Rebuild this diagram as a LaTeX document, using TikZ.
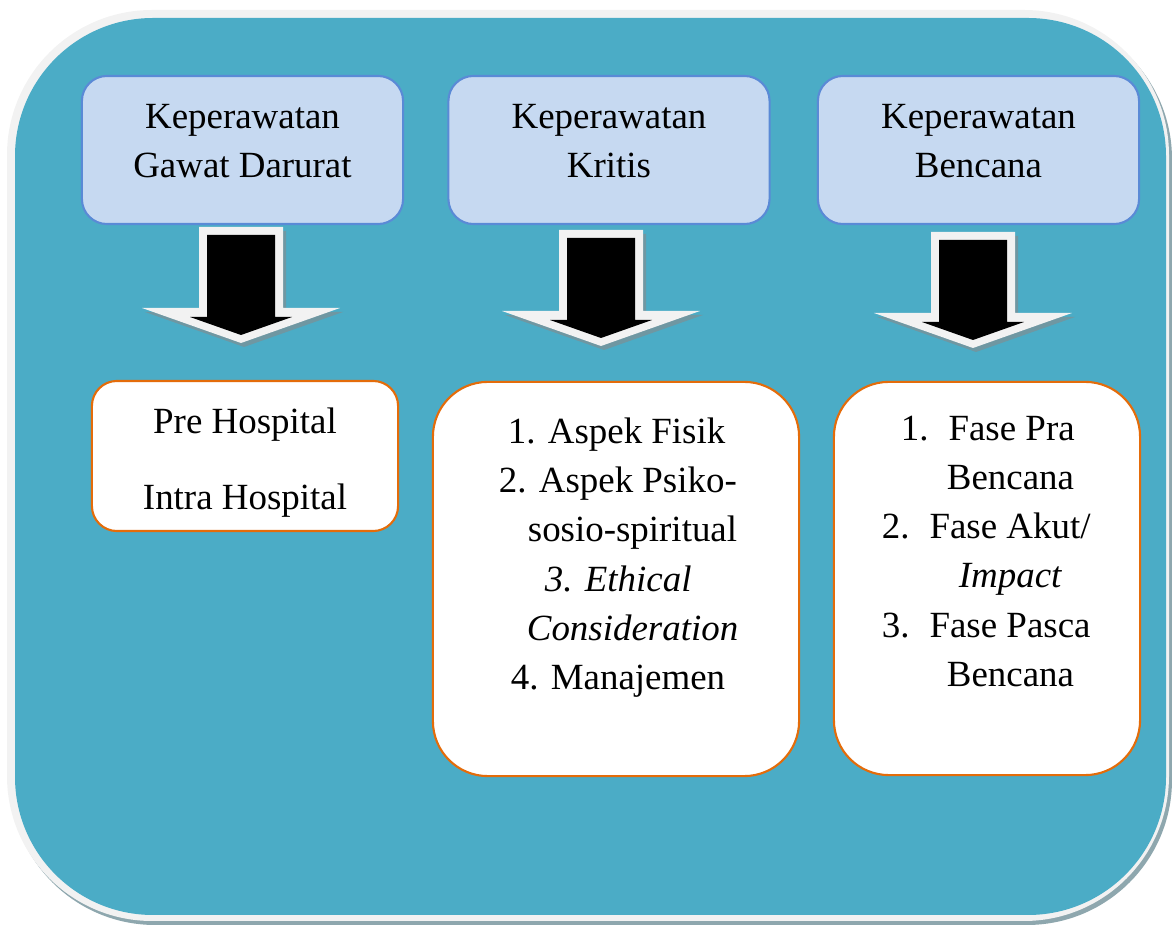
\documentclass[tikz,border=0pt]{standalone}
\usepackage{fontspec}
\setmainfont{Liberation Serif}
\usetikzlibrary{positioning}
\definecolor{frameteal}{HTML}{4BACC6}
\definecolor{rimgray}{HTML}{F2F2F2}
\definecolor{shadowgray}{HTML}{8EA7AE}
\definecolor{arrowshadow}{HTML}{6F97A2}
\definecolor{boxfill}{HTML}{C6D9F1}
\definecolor{boxblue}{HTML}{5A8AD6}
\definecolor{boxorange}{HTML}{E46C0A}
\begin{document}
\begin{tikzpicture}[x=0.01cm, y=-0.01cm, line join=round,
		topbox/.style={draw=boxblue, fill=boxfill, line width=0.6pt, rounded corners=0.25cm, minimum width=3.21cm, minimum height=1.48cm},
		subbox/.style={draw=boxorange, fill=white, line width=0.6pt},
		txt/.style={inner sep=0pt, outer sep=0pt, font=\fontsize{10.5pt}{14pt}\selectfont}]
			\useasboundingbox (0,0) rectangle (1172,925);
			% frame
			\fill[shadowgray, rounded corners=1.45cm] (10,14) rectangle (1172,925);
			\fill[rimgray, rounded corners=1.45cm] (7,10) rectangle (1169,921);
			\fill[frameteal, rounded corners=1.38cm] (15,18) rectangle (1166,915);
			% top boxes
			\node[topbox] (kgd) at (242.5,150) {};
			\node[topbox] (kk) at (609,150) {};
			\node[topbox] (kb) at (978.5,150) {};
			\node[txt, align=center, below=0.295cm of kgd.north] (kgdt) {Keperawatan\\Gawat Darurat};
			\node[txt, align=center, below=0.295cm of kk.north] (kkt) {Keperawatan\\Kritis};
			\node[txt, align=center, below=0.295cm of kb.north] (kbt) {Keperawatan\\Bencana};
			% arrows
			\foreach \cx/\ty in {241/227, 601/230, 973/232}{
				\begin{scope}[shift={(\cx,\ty)}]
					\fill[arrowshadow] (-39,4)--(45,4)--(45,85)--(102,85)--(3,120)--(-96,85)--(-39,85)--cycle;
					\fill[rimgray] (-42,0)--(42,0)--(42,81)--(99,81)--(0,116)--(-99,81)--(-42,81)--cycle;
					\fill[black] (-34,8)--(34,8)--(34,90)--(51,90)--(0,108)--(-51,90)--(-34,90)--cycle;
				\end{scope}
			}
			% lower boxes
			\node[subbox, rounded corners=0.25cm, minimum width=3.06cm, minimum height=1.5cm] (hosp) at (245,456) {};
			\node[subbox, rounded corners=0.55cm, minimum width=3.66cm, minimum height=3.94cm] (aspek) at (616,579) {};
			\node[subbox, rounded corners=0.55cm, minimum width=3.06cm, minimum height=3.93cm] (fase) at (987,578.5) {};
			\node[txt, align=center, below=0.28cm of hosp.north] (hospt) {Pre Hospital\\[0.265cm]Intra Hospital};
			\node[txt, align=left, below right=0.37cm and 0.67cm of aspek.north west] (aspekt) {\hspace*{0.09cm}1. Aspek Fisik\\2. Aspek Psiko-\\\hspace*{0.29cm}sosio-spiritual\\\hspace*{0.46cm}\textit{3. Ethical}\\\hspace*{0.28cm}\textit{Consideration}\\\hspace*{0.12cm}4. Manajemen};
			\node[txt, align=left, below right=0.35cm and 0.49cm of fase.north west] (faset) {\hspace*{0.19cm}1.\hspace{0.2cm}Fase Pra\\\hspace*{0.65cm}Bencana\\2.\hspace{0.2cm}Fase Akut/\\\hspace*{0.77cm}\textit{Impact}\\3.\hspace{0.2cm}Fase Pasca\\\hspace*{0.65cm}Bencana};
		\end{tikzpicture}
\end{document}
